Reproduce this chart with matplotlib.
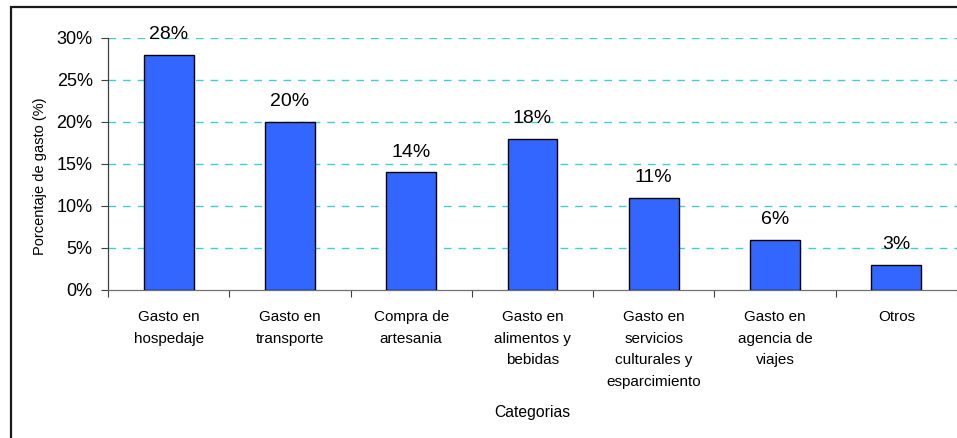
import matplotlib
matplotlib.use("Agg")
import matplotlib.pyplot as plt
from matplotlib.patches import Rectangle
from matplotlib.ticker import FuncFormatter, FixedLocator

categorias = ["Gasto en\nhospedaje", "Gasto en\ntransporte", "Compra de\nartesania",
              "Gasto en\nalimentos y\nbebidas", "Gasto en\nservicios\nculturales y\nesparcimiento",
              "Gasto en\nagencia de\nviajes", "Otros"]
porcentajes = [0.28, 0.20, 0.14, 0.18, 0.11, 0.06, 0.03]
y_ticks = [0.0, 0.05, 0.10, 0.15, 0.20, 0.25, 0.30]

plt.rcParams['font.family'] = ['Liberation Sans', 'DejaVu Sans']

W, H = 957, 438
fig = plt.figure(figsize=(W / 100, H / 100), dpi=100)
fig.patch.set_facecolor('white')

# outer chart frame (cut off on the right and bottom)
fig.patches.append(Rectangle((11 / W, -0.1), 1.2, (H - 7) / H + 0.1, transform=fig.transFigure,
                             fill=False, edgecolor='#1a1a1a', lw=1.6))

ax = fig.add_axes([108 / W, (H - 290) / H, 1 - 108 / W, 252 / H])

x = list(range(len(categorias)))
ax.bar(x, porcentajes, width=0.41, color='#3366FF', edgecolor='black', linewidth=1.0, zorder=3)

for xi, v in zip(x, porcentajes):
    ax.annotate("{:.0f}%".format(v * 100), (xi, v), xytext=(0, 14.4), textcoords='offset points',
                ha='center', va='center', fontsize=14, color='black', zorder=4)

ax.set_xlim(-0.5, len(categorias) - 0.5)
ax.set_ylim(0, 0.30)

ax.yaxis.set_major_locator(FixedLocator(y_ticks))
ax.yaxis.set_major_formatter(FuncFormatter(lambda v, p: "{:.0f}%".format(v * 100)))
ax.tick_params(axis='y', labelsize=13, length=5, width=0.8, color='#404040', pad=6)

ax.set_xticks(x)
ax.set_xticklabels(categorias, fontsize=11, linespacing=1.68)
ax.set_xticks([i + 0.5 for i in range(-1, len(categorias))], minor=True)
ax.tick_params(axis='x', which='major', length=0, pad=14.5)
ax.tick_params(axis='x', which='minor', length=5, width=0.8, color='#404040')

for t in y_ticks[1:]:
    ax.axhline(t, color='#3FCFCF', lw=1.0, dashes=(5.5, 5), zorder=1)

for s in ['top', 'right']:
    ax.spines[s].set_visible(False)
ax.spines['left'].set_color('#404040')
ax.spines['bottom'].set_color('#707070')
ax.spines['left'].set_linewidth(0.9)
ax.spines['bottom'].set_linewidth(0.9)

fig.text(40 / W, 1 - 176 / H, "Porcentaje de gasto (%)", rotation=90, ha='center', va='center',
         fontsize=10.5)
fig.text((108 + 121.3 * 3.5) / W, 1 - 412 / H, "Categorias", ha='center', va='center', fontsize=11.3)

fig.savefig("out.png", dpi=100, facecolor='white')
